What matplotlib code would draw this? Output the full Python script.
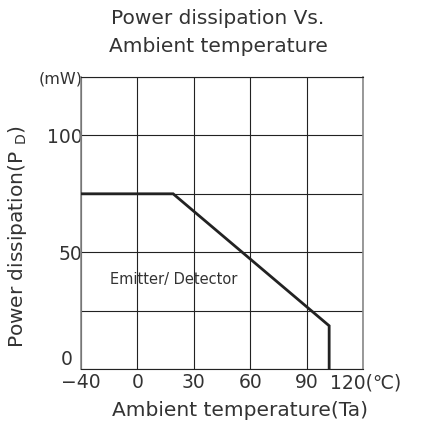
import numpy as np
import matplotlib
matplotlib.use("Agg")
import matplotlib.pyplot as plt
import matplotlib.transforms as mtransforms

# Data
temp = [-40, 19, 102, 102]          # Ambient temperature (°C)
power = [75, 75, 18.5, 0]           # Power dissipation (mW)
x_ticks = [-40, 0, 30, 60, 90, 120]
x_tick_labels = ["\u221240", "0", "30", "60", "90", ""]
y_ticks = [0, 25, 50, 75, 100, 125]
y_tick_labels = ["0", "", "50", "", "100", "(mW)"]

plt.rcParams['font.family'] = ['DejaVu Sans']

def fwd(t):
    t = np.asarray(t, dtype=float)
    return np.where(t < 0, (t + 40) / 40.0, 1 + t / 30.0)

def inv(p):
    p = np.asarray(p, dtype=float)
    return np.where(p < 1, p * 40.0 - 40, (p - 1) * 30.0)

fig = plt.figure(figsize=(4.21, 4.33), dpi=100)
ax = fig.add_axes([81/421, 1-369/433, (363-81)/421, (369-77)/433])
ax.set_xscale('function', functions=(fwd, inv))
ax.set_xlim(-40, 120)
ax.set_ylim(0, 125)

ax.plot(temp, power, color='#222222', lw=2.0, solid_joinstyle='miter', zorder=3)

ax.set_xticks(x_ticks)
ax.set_xticklabels(x_tick_labels)
ax.set_yticks(y_ticks)
ax.set_yticklabels(y_tick_labels)
ax.tick_params(length=0, labelsize=13.5, colors='#333333')
ax.tick_params(axis='x', pad=3)
ax.tick_params(axis='y', pad=-1)
ylbls = ax.get_yticklabels()
ylbls[0].set_va('bottom')
ylbls[0].set_transform(ylbls[0].get_transform() +
                       mtransforms.ScaledTranslation(-10/100, 0, fig.dpi_scale_trans))
ylbls[-1].set_fontsize(11.5)
ax.minorticks_off()
ax.grid(True, color='#222222', lw=0.8)
for s in ['top', 'bottom']:
    ax.spines[s].set_color('#222222')
    ax.spines[s].set_linewidth(0.8)
for s in ['left', 'right']:
    ax.spines[s].set_color('#888888')
    ax.spines[s].set_linewidth(1.2)

ax.annotate("120(\u2103)", xy=(1.0, 0.0), xycoords='axes fraction',
            xytext=(-24, -3.5), textcoords='offset points', ha='left', va='top',
            fontsize=13.5, color='#333333')
ax.text(-19.5, 38.5, "Emitter/ Detector", fontsize=10.5, color='#333333', va='center')

fig.text(218/421, 1-19/433, "Power dissipation Vs.", ha='center', va='center', fontsize=14.5, color='#333333')
fig.text(218/421, 1-46/433, "Ambient temperature", ha='center', va='center', fontsize=14.5, color='#333333')
fig.text(240/421, 1-411/433, "Ambient temperature(Ta)", ha='center', va='center', fontsize=14.5, color='#333333')
fig.text(18/421, 1-237/433, "Power dissipation(P $_\\mathregular{D}$)", rotation=90,
         ha='center', va='center', fontsize=14.5, color='#333333')

fig.savefig("out.png", dpi=100)
